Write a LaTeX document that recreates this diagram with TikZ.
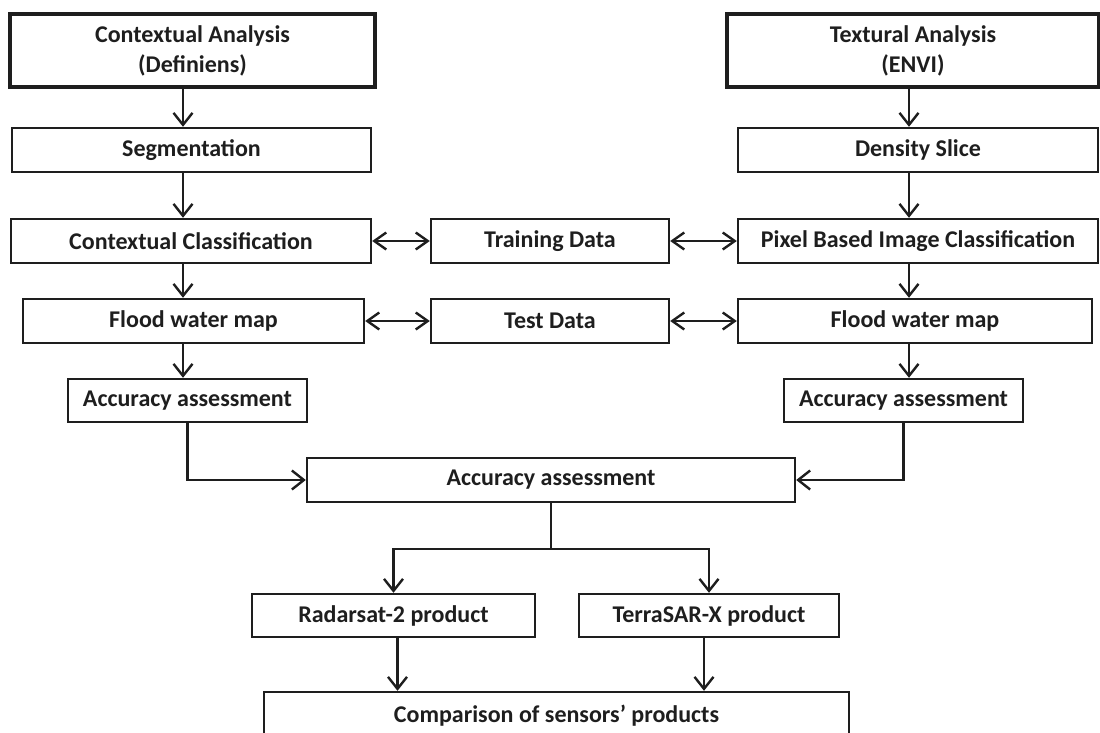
\documentclass[tikz,border=0pt]{standalone}
\usepackage{fontspec}
\setmainfont{Carlito}
\usepackage{xcolor}
\usepackage{tikz}
\usetikzlibrary{arrows.meta,positioning,calc}
\definecolor{inkdark}{HTML}{1E1E1E}

\begin{document}
\begin{tikzpicture}[
    x=1pt, y=-1pt,
    box/.style={rectangle, draw=inkdark, fill=white, line width=2.4pt,
                minimum width=#1, minimum height=44pt, inner sep=0pt,
                align=center, text=inkdark,
                font=\fontsize{24}{30}\selectfont\bfseries},
    topbox/.style={box=#1, line width=3.4pt, minimum height=73pt},
    flow/.style={-{Straight Barb[length=12pt,width=19pt]}, line width=2.4pt, draw=inkdark},
    flowboth/.style={{Straight Barb[length=12pt,width=17pt]}-{Straight Barb[length=12pt,width=17pt]},
                     line width=2.4pt, draw=inkdark},
]
    \useasboundingbox (0,0) rectangle (1100,733);

    % Analysis branches
    \node[topbox=365pt] (ctxan) at (192.5,50.5) {Contextual Analysis\\(Definiens)};
    \node[topbox=372pt] (texan) at (913,50.5) {Textural Analysis\\(ENVI)};
    \node[box=359pt] (seg)   at (191.5,150) {Segmentation};
    \node[box=360pt] (dens)  at (918,150) {Density Slice};

    % Classification row
    \node[box=360pt] (ctxcl) at (191,241) {Contextual Classification};
    \node[box=238pt] (train) at (550,241) {Training Data};
    \node[box=360pt] (pixcl) at (918,241) {Pixel Based Image Classification};

    % Flood maps
    \node[box=341pt] (floodl) at (193.5,321) {Flood water map};
    \node[box=238pt] (test)   at (550,321) {Test Data};
    \node[box=354pt] (floodr) at (915,321) {Flood water map};

    % Accuracy
    \node[box=239pt, minimum height=43pt] (accl) at (187.5,400.5) {Accuracy assessment};
    \node[box=239pt, minimum height=43pt] (accr) at (903.5,400.5) {Accuracy assessment};
    \node[box=488pt] (acc) at (551,480) {Accuracy assessment};

    % Sensor products
    \node[box=283pt, minimum height=43pt] (radar) at (393.5,615.5) {Radarsat-2 product};
    \node[box=260pt, minimum height=43pt] (terra) at (709,615.5) {TerraSAR-X product};
    \node[box=585pt, minimum height=48pt] (comp)  at (556.5,716) {Comparison of sensors’ products};

    % Columns of the vertical flow
    \coordinate (lcol) at (183,0);
    \coordinate (rcol) at (909,0);
    \coordinate (split) at ($(acc.south)+(0,46)$);

    \draw[flow] (ctxan.south -| lcol) -- (seg.north -| lcol);
    \draw[flow] (seg.south -| lcol) -- (ctxcl.north -| lcol);
    \draw[flow] (ctxcl.south -| lcol) -- (floodl.north -| lcol);
    \draw[flow] (floodl.south -| lcol) -- (accl.north -| lcol);

    \draw[flow] (texan.south -| rcol) -- (dens.north -| rcol);
    \draw[flow] (dens.south -| rcol) -- (pixcl.north -| rcol);
    \draw[flow] (pixcl.south -| rcol) -- (floodr.north -| rcol);
    \draw[flow] (floodr.south -| rcol) -- (accr.north -| rcol);

    % Reference data links
    \draw[flowboth] (ctxcl.east) -- (train.west);
    \draw[flowboth] (train.east) -- (pixcl.west);
    \draw[flowboth] (floodl.east) -- (test.west);
    \draw[flowboth] (test.east) -- (floodr.west);

    % Merge and split
    \draw[flow] (accl.south) |- (acc.west);
    \draw[flow] (accr.south) |- (acc.east);
    \draw[line width=2.4pt, draw=inkdark] (acc.south) -- (split);
    \draw[flow] (split) -| (radar.north);
    \draw[flow] (split) -| (terra.north);
    \draw[flow] ($(radar.south)+(4,0)$) -- ($(radar.south |- comp.north)+(4,0)$);
    \draw[flow] ($(terra.south)+(-5,0)$) -- ($(terra.south |- comp.north)+(-5,0)$);
\end{tikzpicture}
\end{document}
